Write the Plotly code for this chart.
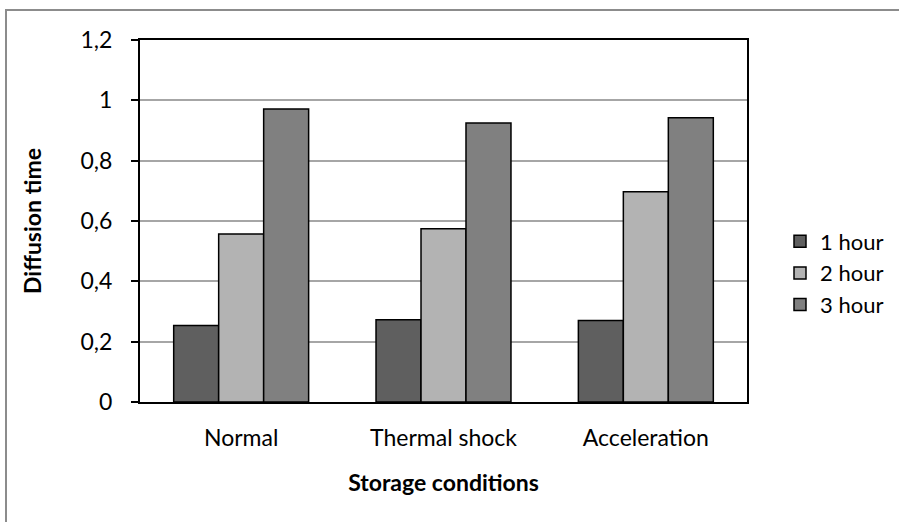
import plotly.graph_objects as go

categories = ["Normal", "Thermal shock", "Acceleration"]
series_names = ["1 hour", "2 hour", "3 hour"]
hour1 = [0.254, 0.273, 0.270]
hour2 = [0.557, 0.574, 0.697]
hour3 = [0.971, 0.925, 0.942]
colors = ["#5f5f5f", "#b3b3b3", "#808080"]
y_ticks = [0, 0.2, 0.4, 0.6, 0.8, 1.0, 1.2]

FONT = "Lato, Open Sans, sans-serif"

fig = go.Figure()
for name, vals, col in zip(series_names, [hour1, hour2, hour3], colors):
    fig.add_trace(go.Bar(
        x=categories, y=vals, name=name,
        marker=dict(color=col, line=dict(color="black", width=1.5)),
    ))

W, H = 899, 522
L, R, T, B = 140, 152, 40, 120
pw, ph = W - L - R, H - T - B

def px_x(p):
    return (p - L) / pw

def px_y(p):
    return (H - B - p) / ph

fig.update_layout(
    width=W, height=H,
    margin=dict(l=L, r=R, t=T, b=B, autoexpand=False),
    paper_bgcolor="white", plot_bgcolor="white",
    separators=",.",
    barmode="group", bargap=0.333, bargroupgap=0,
    font=dict(family=FONT, size=23, color="black"),
    legend=dict(
        x=px_x(780), y=px_y(273), xanchor="left", yanchor="middle",
        font=dict(size=22, family=FONT), bgcolor="rgba(0,0,0,0)",
        itemwidth=30, tracegroupgap=0,
    ),
    shapes=[dict(
        type="rect", xref="paper", yref="paper",
        x0=px_x(6), x1=px_x(960), y0=px_y(600), y1=px_y(10),
        line=dict(color="#8c8c8c", width=2), fillcolor="rgba(0,0,0,0)",
        layer="below",
    )],
)

fig.update_yaxes(
    range=[0, 1.2], tickvals=y_ticks,
    showgrid=True, gridcolor="#a6a6a6", gridwidth=1.5,
    showline=True, linecolor="black", linewidth=2, mirror=True,
    ticks="outside", ticklen=7, tickcolor="black", tickwidth=1.5,
    tickfont=dict(size=23, family=FONT),
    ticklabelstandoff=14,
    zeroline=False,
    title=dict(text="<b>Diffusion time</b>", font=dict(size=23, family=FONT), standoff=32),
)
fig.update_xaxes(
    showline=True, linecolor="black", linewidth=2, mirror=True,
    ticks="", tickfont=dict(size=23, family=FONT),
    ticklabelstandoff=14,
    title=dict(text="<b>Storage conditions</b>", font=dict(size=23, family=FONT), standoff=25),
)

fig.write_html("out.html")
